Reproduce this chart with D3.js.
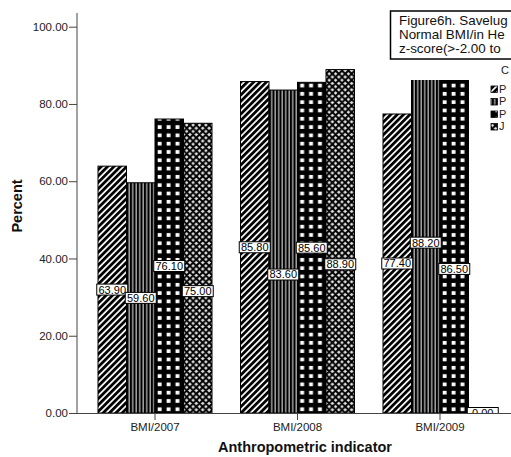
<!DOCTYPE html>
<html><head><meta charset="utf-8">
<script src="https://cdn.jsdelivr.net/npm/d3@7"></script>
<style>body{margin:0;background:#fff}svg{display:block}</style>
</head><body>
<script>
const categories = ["BMI/2007", "BMI/2008", "BMI/2009"];
const seriesNames = ["P", "P", "P", "J"];
const series1 = [63.9, 85.8, 77.4];
const series2 = [59.6, 83.6, 88.2];
const series3 = [76.1, 85.6, 86.5];
const series4 = [75.0, 88.9, 0.0];
const yTicks = [0, 20, 40, 60, 80, 100];
const titleLines = ["Figure6h. Savelug", "Normal BMI/in He", "z-score(>-2.00 to"];
const legendTitle = "C";
const xTitle = "Anthropometric indicator";
const yTitle = "Percent";

const allSeries = [series1, series2, series3, series4];
const W = 511, H = 457;
const FONT = "Liberation Sans, Arial, sans-serif";
const svg = d3.select("body").append("svg").attr("width", W).attr("height", H);
const defs = svg.append("defs");

const y = d3.scaleLinear().domain([0, 100]).range([413, 26.7]);
const x0 = d3.scaleBand().domain(categories).range([83.75, 511.25]).paddingInner(0.2).paddingOuter(0.1);
const x1 = d3.scaleBand().domain(d3.range(4)).range([0, x0.bandwidth()]);

// patterns
function diagPattern(id, ox, oy) {
  const p = defs.append("pattern").attr("id", id).attr("patternUnits", "userSpaceOnUse")
    .attr("width", 4.5).attr("height", 10).attr("x", ox).attr("y", oy).attr("patternTransform", "rotate(45)");
  p.append("rect").attr("width", 4.5).attr("height", 10).attr("fill", "#fff");
  p.append("rect").attr("width", 2.8).attr("height", 10).attr("fill", "#000");
}
function vertPattern(id, ox, oy) {
  const p = defs.append("pattern").attr("id", id).attr("patternUnits", "userSpaceOnUse")
    .attr("width", 3.5).attr("height", 10).attr("x", ox).attr("y", oy);
  p.append("rect").attr("width", 3.5).attr("height", 10).attr("fill", "#a0a0a0");
  p.append("rect").attr("width", 2).attr("height", 10).attr("fill", "#000");
}
function squarePattern(id, ox, oy) {
  const p = defs.append("pattern").attr("id", id).attr("patternUnits", "userSpaceOnUse")
    .attr("width", 8.9).attr("height", 8.3).attr("x", ox).attr("y", oy);
  p.append("rect").attr("width", 8.9).attr("height", 8.3).attr("fill", "#000");
  p.append("rect").attr("x", 2.7).attr("y", 2.7).attr("width", 3.9).attr("height", 3.7).attr("fill", "#fff");
}
function crossPattern(id, ox, oy) {
  const p = defs.append("pattern").attr("id", id).attr("patternUnits", "userSpaceOnUse")
    .attr("width", 6.4).attr("height", 6.4).attr("x", ox).attr("y", oy);
  p.append("rect").attr("width", 6.4).attr("height", 6.4).attr("fill", "#e6e6e6");
  p.append("path").attr("d", "M0,0L6.4,6.4M6.4,0L0,6.4M-1,5.4L1,7.4M5.4,-1L7.4,1M-1,1L1,-1M5.4,7.4L7.4,5.4")
    .attr("stroke", "#000").attr("stroke-width", 2);
}
const makers = [diagPattern, vertPattern, squarePattern, crossPattern];

const clip = defs.append("clipPath").attr("id", "plotclip");
clip.append("rect").attr("x", 77).attr("y", 0).attr("width", W).attr("height", 413);

// bars
const bars = [];
categories.forEach((c, ci) => {
  allSeries.forEach((s, si) => {
    const bx = x0(c) + x1(si);
    const id = `pat-${ci}-${si}`;
    makers[si](id, bx, y(0));
    bars.push({c, ci, si, v: s[ci], x: bx, w: x1.bandwidth(), id});
  });
});

const gBars = svg.append("g");
gBars.selectAll("rect").data(bars).join("rect")
  .attr("x", d => d.x).attr("width", d => d.w)
  .attr("y", d => y(d.v)).attr("height", d => y(0) - y(d.v))
  .attr("fill", d => `url(#${d.id})`)
  .attr("stroke", "#000").attr("stroke-width", 1);

// white legend area covering top right
svg.append("rect").attr("x", 405).attr("y", 59).attr("width", 110).attr("height", 21).attr("fill", "#fff");

// axes
const yAxis = d3.axisLeft(y).tickValues(yTicks).tickFormat(d3.format(".2f")).tickSize(8).tickPadding(1);
const gy = svg.append("g").attr("transform", "translate(77,0)").call(yAxis);
gy.select(".domain").attr("d", "M0,13V413").attr("stroke", "#444");
gy.selectAll(".tick line").attr("stroke", "#444");
gy.selectAll(".tick text").attr("font-family", FONT).attr("font-size", 11.5).attr("fill", "#222");

svg.append("line").attr("x1", 77).attr("x2", W).attr("y1", 413.5).attr("y2", 413.5).attr("stroke", "#444");
const xAxis = d3.axisBottom(x0).tickSize(7).tickPadding(3);
const gx = svg.append("g").attr("transform", "translate(0,413)").call(xAxis);
gx.select(".domain").remove();
gx.selectAll(".tick line").attr("stroke", "#444");
gx.selectAll(".tick text").attr("font-family", FONT).attr("font-size", 11.5).attr("fill", "#222");

// value labels (centred on half height, pushed down when colliding with a neighbour)
const labH = 11, step = 23;
const labels = [];
categories.forEach((c, ci) => {
  const placed = [];
  bars.filter(b => b.ci === ci).forEach(b => {
    const cy = y(b.v / 2);
    let k = 0, cand = cy;
    while (placed.some(p => Math.abs(p.si - b.si) === 1 && Math.abs(p.cy - cand) < 8)) { k++; cand = cy + k * step; }
    const L = {...b, cy: cand};
    placed.push(L); labels.push(L);
  });
});
const gLab = svg.append("g").attr("clip-path", "url(#plotclip)");
const lg = gLab.selectAll("g").data(labels).join("g")
  .attr("transform", d => `translate(${d.x + d.w / 2},${d.cy})`);
lg.append("rect").attr("x", -15.5).attr("y", -labH / 2).attr("width", 31).attr("height", labH)
  .attr("fill", "#fff").attr("stroke", "#000").attr("stroke-width", 1);
lg.append("text").attr("text-anchor", "middle").attr("dy", "0.36em")
  .attr("font-family", FONT).attr("font-size", 11).attr("fill", "#000")
  .text(d => d3.format(".2f")(d.v));

// axis titles
svg.append("text").attr("x", 305).attr("y", 452).attr("text-anchor", "middle")
  .attr("font-family", FONT).attr("font-weight", "bold").attr("font-size", 14.5)
  .attr("fill", "#111").text(xTitle);
svg.append("text").attr("transform", "translate(22,206) rotate(-90)").attr("text-anchor", "middle")
  .attr("font-family", FONT).attr("font-weight", "bold").attr("font-size", 14.5)
  .attr("fill", "#111").text(yTitle);

// title box
svg.append("rect").attr("x", 390.5).attr("y", 11).attr("width", 140).attr("height", 48)
  .attr("fill", "#fff").attr("stroke", "#000").attr("stroke-width", 1.5);
svg.append("g").selectAll("text").data(titleLines).join("text")
  .attr("x", 399).attr("y", (d, i) => 25 + i * 14)
  .attr("font-family", FONT).attr("font-size", 13.4).attr("fill", "#111")
  .text(d => d);

// legend
svg.append("text").attr("x", 501).attr("y", 74).attr("font-family", FONT)
  .attr("font-size", 11).attr("fill", "#222").text(legendTitle);
const leg = svg.append("g").selectAll("g").data(seriesNames).join("g")
  .attr("transform", (d, i) => `translate(491,${86 + i * 12.5})`);
leg.each(function(d, i) { makers[i](`leg-${i}`, 491, 86 + i * 12.5); });
leg.append("rect").attr("width", 6.5).attr("height", 6.5)
  .attr("fill", (d, i) => `url(#leg-${i})`).attr("stroke", "#000").attr("stroke-width", 0.8);
leg.append("text").attr("x", 8).attr("y", 6.5).attr("font-family", FONT)
  .attr("font-size", 11).attr("fill", "#222").text(d => d);
</script>
</body></html>
